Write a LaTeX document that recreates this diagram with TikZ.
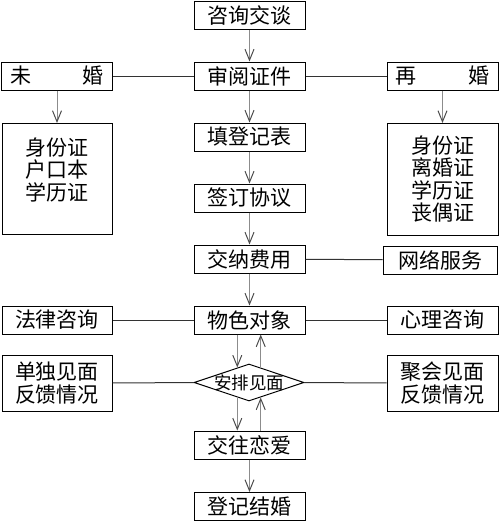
\documentclass[tikz,border=0pt]{standalone}
\usepackage{fontspec}
\setmainfont{Noto Sans CJK SC}
\usetikzlibrary{arrows.meta,shapes.geometric}
\begin{document}
\begin{tikzpicture}[x=1pt,y=-1pt,
  box/.style={draw,line width=1pt,inner sep=0pt,font=\fontsize{21}{22.5}\selectfont},
  cbox/.style={box,minimum width=111pt,minimum height=28pt},
  arr/.style={draw=black!45,line width=1pt,-{Straight Barb[length=11pt,width=9pt,line width=1pt,color=black!70]}},
  lin/.style={draw=black!80,line width=1pt}]
\useasboundingbox (0,0) rectangle (500,522);
% centre column
\node[cbox] (a) at (249.5,15.5) {咨询交谈};
\node[cbox] (b) at (249.5,76) {审阅证件};
\node[cbox] (c) at (249.5,137) {填登记表};
\node[cbox] (d) at (249.5,198) {签订协议};
\node[cbox] (e) at (249.5,259) {交纳费用};
\node[cbox] (f) at (249.5,320) {物色对象};
\node[draw,line width=1pt,diamond,inner sep=0pt,minimum width=110pt,minimum height=37pt] (g) at (249,382.5) {};
\node[font=\fontsize{17.5}{19}\selectfont] (gt) at (g.center) {安排见面};
\node[cbox] (h) at (249.5,445) {交往恋爱};
\node[cbox] (i) at (249.5,506.5) {登记结婚};
% left column
\node[cbox,text width=94pt,align=left] (l1) at (57,76) {未\hfill 婚};
\node[box,minimum width=110pt,minimum height=111pt,anchor=north] (l2) at (57,123) {};
\node[font=\fontsize{21}{22.5}\selectfont,align=center,anchor=north] (l2t) at (57,134) {身份证\\户口本\\学历证};
\node[cbox,minimum width=110pt] (l3) at (57,320) {法律咨询};
\node[box,minimum width=110pt,minimum height=56pt,align=center] (l4) at (57,383) {单独见面\\反馈情况};
% right column
\node[cbox,text width=94pt,align=left] (r1) at (442.5,76) {再\hfill 婚};
\node[box,minimum width=111pt,minimum height=112pt,anchor=north] (r2) at (442.5,123) {};
\node[font=\fontsize{21}{22.5}\selectfont,align=center,anchor=north] (r2t) at (442.5,132) {身份证\\离婚证\\学历证\\丧偶证};
\node[cbox,minimum width=114pt] (r3) at (440,260) {网络服务};
\node[cbox] (r4) at (442.5,320) {心理咨询};
\node[box,minimum width=111pt,minimum height=56pt,align=center] (r5) at (442.5,383) {聚会见面\\反馈情况};
% arrows
\draw[arr] (a) -- (b);
\draw[arr] (b) -- (c);
\draw[arr] (c) -- (d);
\draw[arr] (d) -- (e);
\draw[arr] (e) -- (f);
\draw[arr] (h) -- (i);
\draw[arr] (l1) -- (l2);
\draw[arr] (r1) -- (r2);
\draw[arr] (f.south -| g.128) -- (g.128);
\draw[arr] (g.52) -- (g.52 |- f.south);
\draw[arr] (g.-128) -- (g.-128 |- h.north);
\draw[arr] (h.north -| g.-52) -- (g.-52);
% lines
\draw[lin] (l1) -- (b) -- (r1);
\draw[lin] (e) -- (r3);
\draw[lin] (l3) -- (f) -- (r4);
\draw[lin] (l4) -- (g) -- (r5);
\end{tikzpicture}
\end{document}
